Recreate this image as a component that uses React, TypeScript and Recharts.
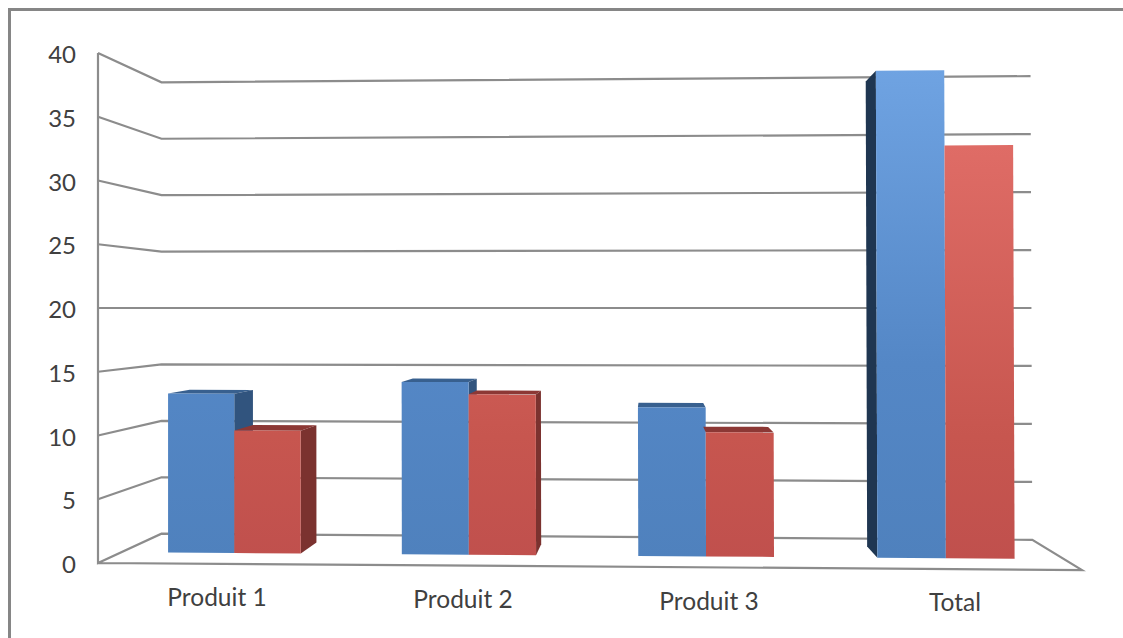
import { BarChart, Bar, XAxis, YAxis, CartesianGrid } from "recharts";

const categories = ["Produit 1", "Produit 2", "Produit 3", "Total"];
const serie1 = [13, 14, 12, 39];
const serie2 = [10, 13, 10, 33];
const yTicks = [0, 5, 10, 15, 20, 25, 30, 35, 40];

const rows = categories.map((name, i) => ({ name, serie1: serie1[i], serie2: serie2[i] }));

const WIDTH = 1123;
const HEIGHT = 638;

// plot rectangle as recharts lays it out
const PLOT_LEFT = 98;
const PLOT_RIGHT = 1082;
const PLOT_TOP = 53;
const PLOT_BOTTOM = 563;

// the same rectangle once tilted, plus the point all depth edges run to
const FRONT_TOP_RIGHT = { x: 1080, y: 46 };
const FRONT_BOTTOM_RIGHT = { x: 1082, y: 570 };
const VANISH = { x: 650, y: 308 };

// depth as a fraction of the way to the vanishing point
const WALL_DEPTH = 0.115;
const BAR_FRONT = 0.042;
const BAR_BACK = 0.085;

const GRID = "#8c8c8c";

function lerp(a: number, b: number, t: number) {
  return a + (b - a) * t;
}

// flat chart coordinates + depth -> tilted page coordinates
function project(x: number, y: number, depth: number) {
  const u = (x - PLOT_LEFT) / (PLOT_RIGHT - PLOT_LEFT);
  const v = (PLOT_BOTTOM - y) / (PLOT_BOTTOM - PLOT_TOP);
  const bottomX = lerp(PLOT_LEFT, FRONT_BOTTOM_RIGHT.x, u);
  const bottomY = lerp(PLOT_BOTTOM, FRONT_BOTTOM_RIGHT.y, u);
  const topX = lerp(PLOT_LEFT, FRONT_TOP_RIGHT.x, u);
  const topY = lerp(PLOT_TOP, FRONT_TOP_RIGHT.y, u);
  const px = lerp(bottomX, topX, v);
  const py = lerp(bottomY, topY, v);
  return { x: lerp(px, VANISH.x, depth), y: lerp(py, VANISH.y, depth) };
}

// bars spread out a little toward the right, as they come nearer the viewer
function spreadX(x: number) {
  return x - 6 + 0.000023 * (x - 450) * (x - 450);
}

function points(list: { x: number; y: number }[]) {
  return list.map((p) => `${p.x},${p.y}`).join(" ");
}

// one gridline folded along the side wall and the back wall
function WallLine(props: any) {
  const y = props.y1;
  const front = project(PLOT_LEFT, y, 0);
  const corner = project(PLOT_LEFT, y, WALL_DEPTH);
  const end = project(PLOT_RIGHT, y, WALL_DEPTH);
  const isFloor = Math.abs(y - PLOT_BOTTOM) < 1;
  if (isFloor) {
    const floor = [project(PLOT_LEFT, PLOT_TOP, 0), front, corner, end, project(PLOT_RIGHT, y, 0), front];
    return <polyline key={props.key} points={points(floor)} fill="none" stroke={GRID} strokeWidth={2.2} />;
  }
  return <polyline key={props.key} points={points([front, corner, end])} fill="none" stroke={GRID} strokeWidth={2.2} />;
}

type Colors = { face: string; top: string; right: string; left: string };

const blue: Colors = { face: "url(#blueFace)", top: "#38608f", right: "#31547e", left: "#1f3651" };
const red: Colors = { face: "url(#redFace)", top: "#8c3835", right: "#7b322f", left: "#7b322f" };

function makeBox(colors: Colors, showLeft: boolean) {
  return function Box(props: any) {
    const { x, y, width, height } = props;
    const l = spreadX(x);
    const r = spreadX(x + width);
    const b = y + height;
    const ftl = project(l, y, BAR_FRONT);
    const ftr = project(r, y, BAR_FRONT);
    const fbl = project(l, b, BAR_FRONT);
    const fbr = project(r, b, BAR_FRONT);
    const btl = project(l, y, BAR_BACK);
    const btr = project(r, y, BAR_BACK);
    const bbl = project(l, b, BAR_BACK);
    const bbr = project(r, b, BAR_BACK);
    return (
      <g>
        {ftl.y > VANISH.y && <polygon points={points([ftl, ftr, btr, btl])} fill={colors.top} />}
        {ftr.x < VANISH.x && <polygon points={points([ftr, fbr, bbr, btr])} fill={colors.right} />}
        {showLeft && ftl.x > VANISH.x && <polygon points={points([ftl, fbl, bbl, btl])} fill={colors.left} />}
        <polygon points={points([ftl, ftr, fbr, fbl])} fill={colors.face} />
      </g>
    );
  };
}

// category labels follow the slope of the front floor edge
function CategoryTick(props: any) {
  const { x, payload } = props;
  const floor = project(x, PLOT_BOTTOM, 0);
  return (
    <text x={x - 4} y={floor.y + 36} textAnchor="middle" dominantBaseline="middle" fontFamily="Lato" fontSize={24.5} fill="#404040">
      {payload.value}
    </text>
  );
}

export default function App() {
  return (
    <div style={{ position: "absolute", left: 0, top: 0, width: WIDTH, height: HEIGHT, overflow: "hidden", background: "#fff" }}>
      <div
        style={{
          position: "absolute",
          left: 8,
          top: 8,
          width: WIDTH,
          height: HEIGHT,
          borderLeft: "3px solid #868686",
          borderTop: "3px solid #868686",
        }}
      />
      <div style={{ position: "absolute", left: 0, top: 0 }}>
        <BarChart
          width={WIDTH}
          height={HEIGHT}
          data={rows}
          margin={{ top: PLOT_TOP, right: WIDTH - PLOT_RIGHT, bottom: 0, left: 0 }}
          barCategoryGap="21.5%"
          barGap={0}
        >
          <defs>
            <linearGradient id="blueFace" gradientUnits="userSpaceOnUse" x1="0" y1="70" x2="0" y2="560">
              <stop offset="0" stopColor="#6fa3e2" />
              <stop offset="0.6" stopColor="#5487c6" />
              <stop offset="1" stopColor="#4f81bd" />
            </linearGradient>
            <linearGradient id="redFace" gradientUnits="userSpaceOnUse" x1="0" y1="145" x2="0" y2="560">
              <stop offset="0" stopColor="#df6c66" />
              <stop offset="0.7" stopColor="#c7564f" />
              <stop offset="1" stopColor="#c0504d" />
            </linearGradient>
          </defs>
          <CartesianGrid vertical={false} horizontal={WallLine as any} />
          <XAxis dataKey="name" height={HEIGHT - PLOT_BOTTOM} axisLine={false} tickLine={false} tick={CategoryTick as any} interval={0} />
          <YAxis
            width={PLOT_LEFT}
            domain={[0, 40]}
            ticks={yTicks}
            tickLine={false}
            tickSize={0}
            tickMargin={22}
            axisLine={false}
            tick={{ fontFamily: "Lato", fontSize: 24, fill: "#404040", dy: 1.5 }}
          />
          <Bar dataKey="serie1" isAnimationActive={false} shape={makeBox(blue, true)} />
          <Bar dataKey="serie2" isAnimationActive={false} shape={makeBox(red, false)} />
        </BarChart>
      </div>
    </div>
  );
}
